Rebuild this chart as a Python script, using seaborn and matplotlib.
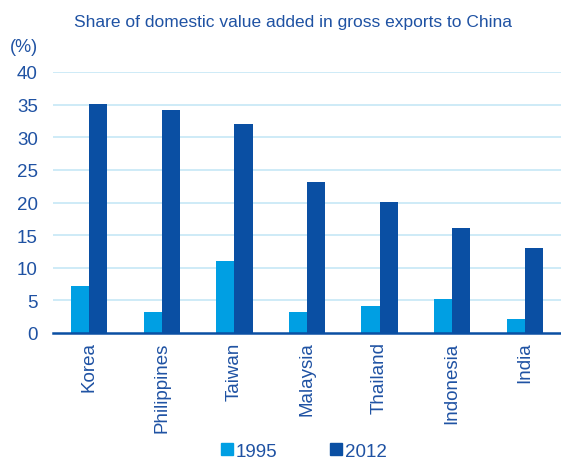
import matplotlib
matplotlib.use("Agg")
import matplotlib.pyplot as plt
import seaborn as sns
import pandas as pd
import numpy as np
from matplotlib.lines import Line2D

sns.set_theme(style="white")
plt.rcParams["font.family"] = ["Liberation Sans", "DejaVu Sans"]

countries = ["Korea", "Philippines", "Taiwan", "Malaysia", "Thailand", "Indonesia", "India"]
share_1995 = [7.2, 3.2, 11.1, 3.2, 4.2, 5.2, 2.2]
share_2012 = [35.1, 34.1, 32.1, 23.1, 20.1, 16.1, 13.1]
years = ["1995", "2012"]

df = pd.DataFrame({
    "country": countries * 2,
    "year": [years[0]] * len(countries) + [years[1]] * len(countries),
    "share": share_1995 + share_2012,
})

light = "#009FE3"
dark = "#0A4FA3"
text_col = "#1F52A3"
grid_col = "#C6E8F6"

fig = plt.figure(figsize=(5.61, 4.60), dpi=100)
ax = fig.add_axes([53 / 561, 1 - 334 / 460, 508 / 561, 261 / 460])

sns.barplot(data=df, x="country", y="share", hue="year", palette=[light, dark],
            width=0.5, gap=0, ax=ax, legend=False, saturation=1, zorder=3,
            linewidth=0)

ax.set_ylim(0, 40)
ax.set_xlim(-0.5, -0.5 + 508 / 73.4)
ax.set_yticks(np.arange(0, 41, 5))
for y in range(5, 41, 5):
    ax.axhline(y, color=grid_col, lw=1.2, zorder=1)

for s in ["top", "right", "left"]:
    ax.spines[s].set_visible(False)
ax.spines["bottom"].set_color(dark)
ax.spines["bottom"].set_linewidth(1.8)
ax.spines["bottom"].set_zorder(4)

ax.set_xlabel("")
ax.set_ylabel("")
ax.tick_params(axis="y", length=0, labelsize=13.5, labelcolor=text_col, pad=11)
ax.tick_params(axis="x", which="major", length=0, labelsize=13.5, labelcolor=text_col,
               labelrotation=90, pad=6)
ax.set_xticks(np.arange(-0.5, 7, 1), minor=True)
ax.tick_params(axis="x", which="minor", length=5, width=1.5, color=dark, direction="out")

fig.text(293 / 561, 1 - 22 / 460, "Share of domestic value added in gross exports to China",
         ha="center", va="center", fontsize=12.5, color=text_col)
fig.text(10 / 561, 1 - 47 / 460, "(%)", ha="left", va="center", fontsize=13, color=text_col)

handles = [Line2D([0], [0], marker="s", ls="", markersize=9, markerfacecolor=c,
                  markeredgecolor=c) for c in [light, dark]]
fig.legend(handles, years, loc="center", bbox_to_anchor=(302 / 561, 1 - 452 / 460),
           ncol=2, frameon=False, fontsize=13.5, labelcolor=text_col,
           handletextpad=0.0, columnspacing=2.6, handlelength=1.0)

fig.savefig("out.png", dpi=100)
